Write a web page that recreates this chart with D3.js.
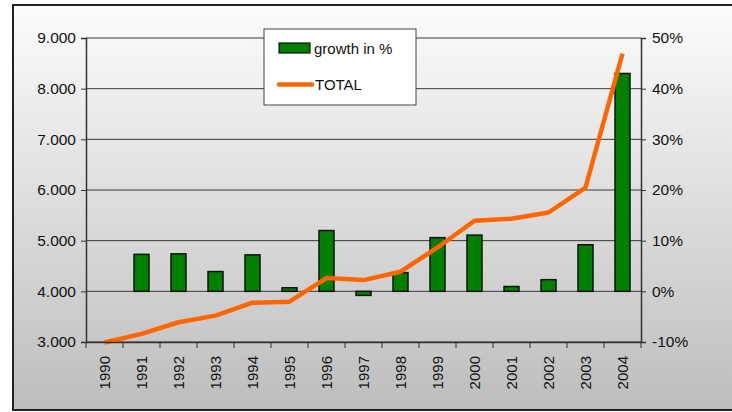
<!DOCTYPE html>
<html>
<head>
<meta charset="utf-8">
<script src="https://cdn.jsdelivr.net/npm/d3@7"></script>
<style>
  body { margin: 0; background: #fff; }
  svg text { font-family: "Liberation Sans", Arial, sans-serif; fill: #111; }
</style>
</head>
<body>
<svg id="chart" width="732" height="412"></svg>
<script>
// data
var years = ["1990","1991","1992","1993","1994","1995","1996","1997","1998","1999","2000","2001","2002","2003","2004"];
var growth = [null, 7.3, 7.4, 3.9, 7.2, 0.7, 12.0, -0.8, 3.7, 10.6, 11.1, 0.95, 2.3, 9.2, 43.0];
var total = [2990, 3160, 3390, 3520, 3775, 3795, 4262, 4222, 4387, 4866, 5393, 5432, 5556, 6049, 8690];
var leftTicks = [3000, 4000, 5000, 6000, 7000, 8000, 9000];
var rightTicks = [-10, 0, 10, 20, 30, 40, 50];

var margin = {top: 38, right: 91, bottom: 70, left: 86};
var width = 732, height = 412;

var svg = d3.select("#chart");

// background gradient + frame (right edge runs off the picture)
var defs = svg.append("defs");
var grad = defs.append("linearGradient").attr("id", "bg")
  .attr("x1", 0).attr("y1", 0).attr("x2", 0).attr("y2", 1);
grad.append("stop").attr("offset", "0%").attr("stop-color", "#fcfcfc");
grad.append("stop").attr("offset", "100%").attr("stop-color", "#bdbdbd");

svg.append("rect")
  .attr("x", 13).attr("y", 5).attr("width", 725).attr("height", 405)
  .attr("fill", "url(#bg)").attr("stroke", "#222").attr("stroke-width", 2);

var x = d3.scaleBand().domain(years)
  .range([margin.left, width - margin.right]);
var yL = d3.scaleLinear().domain([3000, 9000])
  .range([height - margin.bottom, margin.top]);
var yR = d3.scaleLinear().domain([-10, 50])
  .range([height - margin.bottom, margin.top]);

var fmt = function(d) { return d3.format(",")(d).replace(",", "."); };

// gridlines
svg.append("g").selectAll("line").data(leftTicks).enter().append("line")
  .attr("x1", margin.left).attr("x2", width - margin.right)
  .attr("y1", d => yL(d)).attr("y2", d => yL(d))
  .attr("stroke", "#3a3a3a").attr("stroke-width", 1);

// bars
var bw = 15;
svg.append("g").selectAll("rect").data(growth.map((g, i) => ({y: years[i], g: g})).filter(d => d.g !== null))
  .enter().append("rect")
  .attr("x", d => x(d.y) + x.bandwidth() / 2 - bw / 2)
  .attr("width", bw)
  .attr("y", d => yR(Math.max(0, d.g)))
  .attr("height", d => Math.abs(yR(d.g) - yR(0)))
  .attr("fill", "#008000").attr("stroke", "#111").attr("stroke-width", 1.5);

// total line
var line = d3.line().x((d, i) => x(years[i]) + x.bandwidth() / 2).y(d => yL(d));
svg.append("path").datum(total)
  .attr("d", line).attr("fill", "none")
  .attr("stroke", "#ff6600").attr("stroke-width", 4.5)
  .attr("stroke-linejoin", "round");

// axes
var axL = svg.append("g").attr("transform", "translate(" + margin.left + ",0)")
  .call(d3.axisLeft(yL).tickValues(leftTicks).tickFormat(fmt).tickSize(5).tickPadding(5));
var axR = svg.append("g").attr("transform", "translate(" + (width - margin.right) + ",0)")
  .call(d3.axisRight(yR).tickValues(rightTicks).tickFormat(d => d + "%").tickSize(5).tickPadding(6));
var axB = svg.append("g").attr("transform", "translate(0," + (height - margin.bottom) + ")")
  .call(d3.axisBottom(x).tickSize(0).tickPadding(0));

[axL, axR].forEach(function(a) {
  a.select(".domain").attr("stroke", "#333").attr("stroke-width", 1.5);
  a.selectAll(".tick line").attr("stroke", "#333");
  a.selectAll("text").attr("font-size", 15.5).attr("fill", "#111");
});
axB.select(".domain").attr("stroke", "#333").attr("stroke-width", 1.5);
axB.selectAll(".tick text")
  .attr("font-size", 15).attr("fill", "#111")
  .attr("transform", "rotate(-90)")
  .attr("text-anchor", "end")
  .attr("x", -14).attr("y", 0).attr("dy", "0.35em");

// ticks between categories
svg.append("g").selectAll("line").data(d3.range(years.length + 1)).enter().append("line")
  .attr("x1", i => margin.left + i * x.step()).attr("x2", i => margin.left + i * x.step())
  .attr("y1", height - margin.bottom).attr("y2", height - margin.bottom + 6)
  .attr("stroke", "#333").attr("stroke-width", 1);

// legend
var lg = svg.append("g");
lg.append("rect").attr("x", 264).attr("y", 29).attr("width", 152).attr("height", 76)
  .attr("fill", "#fff").attr("stroke", "#444").attr("stroke-width", 1);
lg.append("rect").attr("x", 279).attr("y", 43).attr("width", 31).attr("height", 10)
  .attr("fill", "#008000").attr("stroke", "#111").attr("stroke-width", 1.2);
lg.append("text").attr("x", 314).attr("y", 53.5).attr("font-size", 15).text("growth in %");
lg.append("line").attr("x1", 279).attr("x2", 312).attr("y1", 84.5).attr("y2", 84.5)
  .attr("stroke", "#ff6600").attr("stroke-width", 4.5).attr("stroke-linecap", "round");
lg.append("text").attr("x", 315).attr("y", 90).attr("font-size", 15).text("TOTAL");
</script>
</body>
</html>
